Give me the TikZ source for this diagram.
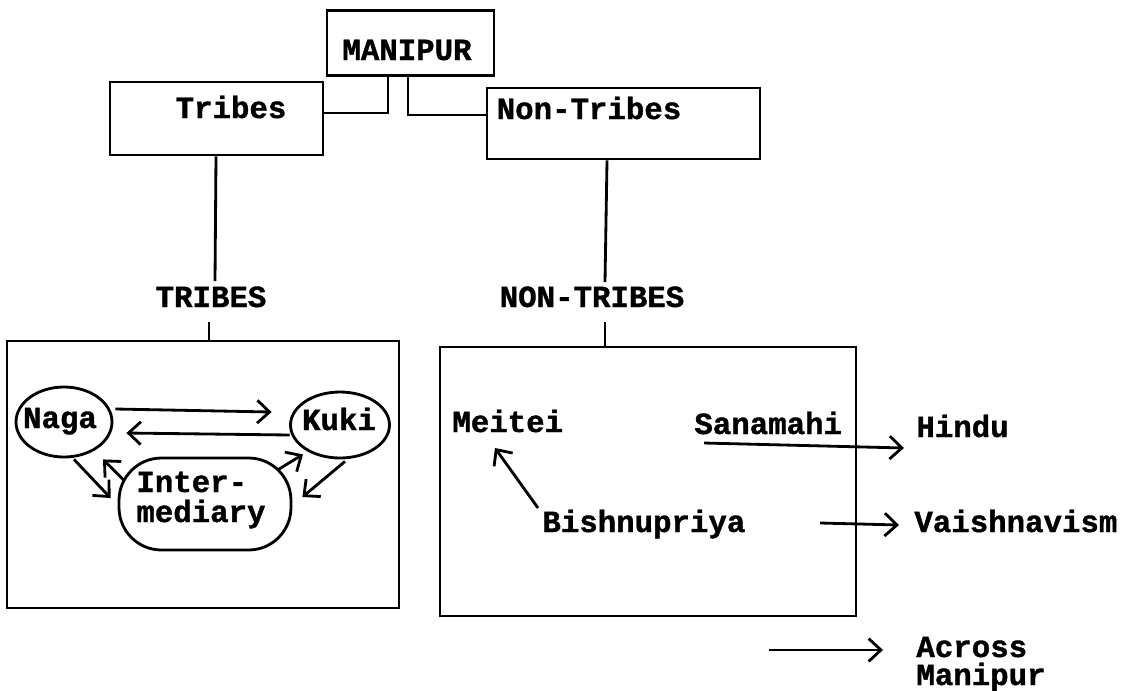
\documentclass[tikz,border=0pt]{standalone}
\usepackage{fontspec}
\setmonofont{Liberation Mono}[BoldFeatures={FakeBold=1.2}]
\usetikzlibrary{arrows.meta,calc,shapes.geometric}
\begin{document}
\begin{tikzpicture}[x=0.02cm,y=-0.02cm,
  line width=1.6pt,
  txt/.style={font=\ttfamily\bfseries\fontsize{17.5}{16.5}\selectfont, inner sep=0pt, anchor=base},
  ltxt/.style={txt, anchor=base west},
  boxnode/.style={draw, rectangle, inner sep=0pt},
  oval/.style={draw, ellipse, inner sep=0pt},
  arr/.style={-{Straight Barb[length=7pt,width=13pt]}},
]
\useasboundingbox (0,0) rectangle (1131,690);
% top boxes
\node[boxnode, minimum width=167*0.02cm, minimum height=65*0.02cm] (manbox) at (410.5,43) {};
\node[txt] (manipur) at (407,60) {MANIPUR};
\node[boxnode, minimum width=213*0.02cm, minimum height=73*0.02cm] (tribox) at (216.5,118.5) {};
\node[txt] (tribes) at (231,118) {Tribes};
\node[boxnode, minimum width=273*0.02cm, minimum height=71*0.02cm] (ntbox) at (623.5,123.5) {};
\node[txt] (nontribes) at (589,119) {Non-Tribes};
% connectors from MANIPUR
\draw ($(manbox.south)+(-22.5,0)$) |- ($(tribox.east)+(0,-5.5)$);
\draw ($(manbox.south)+(-2.5,0)$) |- ($(ntbox.west)+(0,-8.5)$);
% labels
\node[txt] (tlbl) at (211,307) {TRIBES};
\node[txt] (ntlbl) at (592,307) {NON-TRIBES};
\draw ($(tribox.south)+(-0.5,0)$) -- ($(tlbl.base)+(4,-26)$);
\draw ($(ntbox.south)+(-16.5,0)$) -- ($(ntlbl.base)+(13,-25)$);
% lower boxes
\node[boxnode, minimum width=392*0.02cm, minimum height=267*0.02cm] (lbox) at (203,474.5) {};
\node[boxnode, minimum width=416*0.02cm, minimum height=269*0.02cm] (rbox) at (648,481.5) {};
\draw ($(tlbl.base)+(-2,15)$) coordinate (tk1) -- (tk1 |- lbox.north);
\draw ($(ntlbl.base)+(13,15)$) coordinate (tk2) -- (tk2 |- rbox.north);
% left box content
\node[oval, minimum width=96*0.02cm, minimum height=70*0.02cm] (naga) at (64,422) {};
\node[txt] at (60,428) {Naga};
\node[oval, minimum width=99*0.02cm, minimum height=66*0.02cm] (kuki) at (340,425) {};
\node[txt] at (339,430) {Kuki};
\node[draw, rounded corners=0.85cm, minimum width=172*0.02cm, minimum height=92*0.02cm, inner sep=0pt] (inter) at (205,504) {};
\node[ltxt] at (135,492) {Inter-};
\node[ltxt] at (135,522) {mediary};
\draw[arr] ($(naga.east)+(2,-13)$) -- ($(kuki.west)+(-17.5,-13)$);
\draw[arr] ($(kuki.west)+(0.5,10)$) -- ($(naga.east)+(13,11)$);
\draw[arr] ($(naga.south)+(10,1)$) -- ($(inter.west)+(-7,-6)$);
\draw[arr] ($(inter.west)+(6,-24)$) -- ($(naga.south)+(39,1)$);
\draw[arr] ($(inter.east)+(-15,-34)$) -- ($(kuki.south)+(-37,-5)$);
\draw[arr] ($(kuki.south)+(5,2)$) -- ($(inter.east)+(10,-7)$);
% right box content
\node[ltxt] (meitei) at (451,432) {Meitei};
\node[ltxt] (sanamahi) at (693,434) {Sanamahi};
\node[ltxt] (hindu) at (915,437) {Hindu};
\node[ltxt] (bishnu) at (541,532) {Bishnupriya};
\node[ltxt] (vaish) at (913,532) {Vaishnavism};
\node[ltxt] (across) at (915,657) {Across};
\node[ltxt] (manip2) at (915,685) {Manipur};
\draw[arr] ($(bishnu.base west)+(-3,-24)$) -- ($(meitei.base west)+(44,16)$);
\draw[arr] ($(sanamahi.base west)+(11,9)$) -- ($(hindu.base west)+(-11,11)$);
\coordinate (vstart) at (820,523);
\draw[arr] (vstart) -- ($(vaish.base west)+(-14,-7)$);
\coordinate (astart) at (769,650);
\draw[arr] (astart) -- ($(across.base west)+(-32,-7)$);
\end{tikzpicture}
\end{document}
